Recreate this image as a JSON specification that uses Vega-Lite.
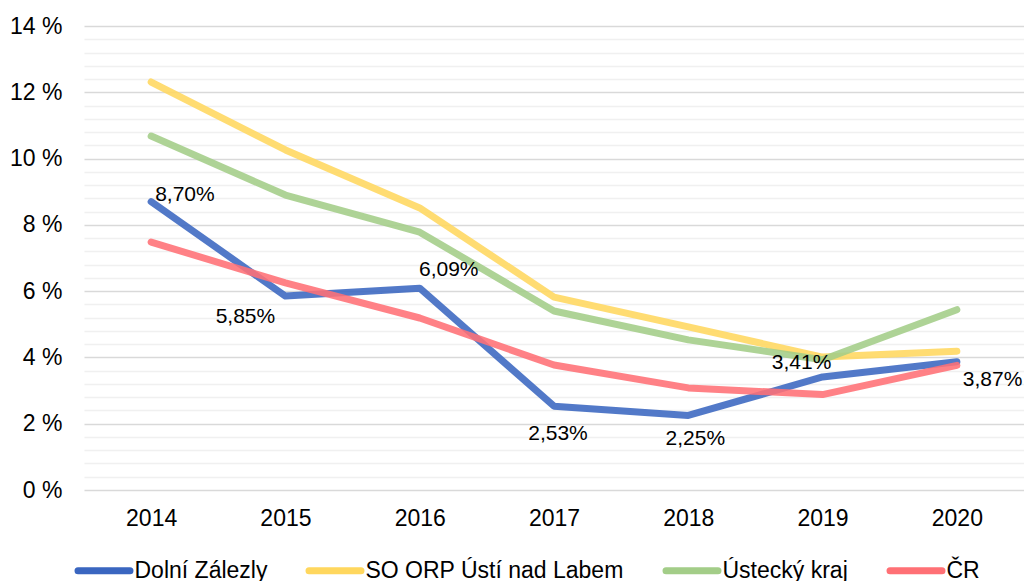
{
  "$schema": "https://vega.github.io/schema/vega-lite/v6.json",
  "width": 940,
  "height": 464,
  "autosize": {"type": "none"},
  "padding": {"left": 84, "top": 26, "right": 0, "bottom": 91},
  "background": "white",
  "config": {
    "view": {"stroke": null},
    "font": "Liberation Sans",
    "text": {"font": "Liberation Sans", "fontSize": 21, "fill": "#000"}
  },
  "data": {
    "values": [
      {"year": "2014", "series": "Dolní Zálezly", "v": 8.70},
      {"year": "2015", "series": "Dolní Zálezly", "v": 5.85},
      {"year": "2016", "series": "Dolní Zálezly", "v": 6.09},
      {"year": "2017", "series": "Dolní Zálezly", "v": 2.53},
      {"year": "2018", "series": "Dolní Zálezly", "v": 2.25},
      {"year": "2019", "series": "Dolní Zálezly", "v": 3.41},
      {"year": "2020", "series": "Dolní Zálezly", "v": 3.87},
      {"year": "2014", "series": "SO ORP Ústí nad Labem", "v": 12.31},
      {"year": "2015", "series": "SO ORP Ústí nad Labem", "v": 10.26},
      {"year": "2016", "series": "SO ORP Ústí nad Labem", "v": 8.51},
      {"year": "2017", "series": "SO ORP Ústí nad Labem", "v": 5.82},
      {"year": "2018", "series": "SO ORP Ústí nad Labem", "v": 4.92},
      {"year": "2019", "series": "SO ORP Ústí nad Labem", "v": 4.01},
      {"year": "2020", "series": "SO ORP Ústí nad Labem", "v": 4.19},
      {"year": "2014", "series": "Ústecký kraj", "v": 10.68},
      {"year": "2015", "series": "Ústecký kraj", "v": 8.90},
      {"year": "2016", "series": "Ústecký kraj", "v": 7.78},
      {"year": "2017", "series": "Ústecký kraj", "v": 5.40},
      {"year": "2018", "series": "Ústecký kraj", "v": 4.53},
      {"year": "2019", "series": "Ústecký kraj", "v": 3.93},
      {"year": "2020", "series": "Ústecký kraj", "v": 5.44},
      {"year": "2014", "series": "ČR", "v": 7.48},
      {"year": "2015", "series": "ČR", "v": 6.25},
      {"year": "2016", "series": "ČR", "v": 5.19},
      {"year": "2017", "series": "ČR", "v": 3.77},
      {"year": "2018", "series": "ČR", "v": 3.08},
      {"year": "2019", "series": "ČR", "v": 2.88},
      {"year": "2020", "series": "ČR", "v": 3.76}
    ]
  },
  "transform": [
    {"calculate": "replace(format(datum.v, '.2f'), '.', ',') + '%'", "as": "label"}
  ],
  "encoding": {
    "x": {
      "field": "year", "type": "ordinal",
      "scale": {"type": "point", "padding": 0.5},
      "axis": {
        "title": null, "labelAngle": 0, "domain": false, "ticks": false,
        "labelFontSize": 23, "labelColor": "#000", "labelFont": "Liberation Sans",
        "labelPadding": 17, "grid": false
      }
    },
    "y": {
      "field": "v", "type": "quantitative",
      "scale": {"domain": [0, 14], "nice": false, "zero": true},
      "axis": {
        "title": null, "domain": false, "ticks": false,
        "values": [0, 0.4, 0.8, 1.2, 1.6, 2, 2.4, 2.8, 3.2, 3.6, 4, 4.4, 4.8, 5.2, 5.6, 6, 6.4, 6.8, 7.2, 7.6, 8, 8.4, 8.8, 9.2, 9.6, 10, 10.4, 10.8, 11.2, 11.6, 12, 12.4, 12.8, 13.2, 13.6, 14],
        "labelExpr": "datum.value % 2 === 0 ? datum.value + ' %' : ''",
        "labelFontSize": 23, "labelColor": "#000", "labelFont": "Liberation Sans",
        "labelPadding": 22,
        "grid": true,
        "gridColor": {"condition": {"test": "datum.value % 2 === 0", "value": "#d9d9d9"}, "value": "#f0f0f0"},
        "gridWidth": 1.5
      }
    }
  },
  "layer": [
    {
      "mark": {"type": "line", "strokeWidth": 7, "strokeCap": "round", "strokeJoin": "round", "opacity": 0.88},
      "encoding": {
        "color": {
          "field": "series", "type": "nominal",
          "scale": {
            "domain": ["Dolní Zálezly", "SO ORP Ústí nad Labem", "Ústecký kraj", "ČR"],
            "range": ["#3a66c0", "#ffd75e", "#a3cd88", "#ff7075"]
          },
          "legend": {
            "title": null, "orient": "none", "direction": "horizontal",
            "legendX": -9.5, "legendY": 515,
            "symbolType": "stroke", "symbolSize": 2700, "symbolStrokeWidth": 7,
            "symbolOpacity": 1,
            "labelFontSize": 23, "labelColor": "#000", "labelFont": "Liberation Sans",
            "labelLimit": 400, "labelOffset": 1, "columnPadding": 27, "padding": 0,
            "encode": {"symbols": {"update": {"strokeCap": {"value": "round"}}}}
          }
        },
        "order": {"field": "year"}
      }
    },
    {
      "transform": [{"filter": "datum.series === 'Dolní Zálezly' && datum.year === '2014'"}],
      "mark": {"type": "text", "align": "left", "baseline": "middle", "dx": 4, "dy": -7},
      "encoding": {"text": {"field": "label"}}
    },
    {
      "transform": [{"filter": "datum.series === 'Dolní Zálezly' && datum.year === '2015'"}],
      "mark": {"type": "text", "align": "center", "baseline": "middle", "dx": -40, "dy": 21},
      "encoding": {"text": {"field": "label"}}
    },
    {
      "transform": [{"filter": "datum.series === 'Dolní Zálezly' && datum.year === '2016'"}],
      "mark": {"type": "text", "align": "center", "baseline": "middle", "dx": 29, "dy": -18},
      "encoding": {"text": {"field": "label"}}
    },
    {
      "transform": [{"filter": "datum.series === 'Dolní Zálezly' && datum.year === '2017'"}],
      "mark": {"type": "text", "align": "center", "baseline": "middle", "dx": 4, "dy": 28},
      "encoding": {"text": {"field": "label"}}
    },
    {
      "transform": [{"filter": "datum.series === 'Dolní Zálezly' && datum.year === '2018'"}],
      "mark": {"type": "text", "align": "center", "baseline": "middle", "dx": 7, "dy": 24},
      "encoding": {"text": {"field": "label"}}
    },
    {
      "transform": [{"filter": "datum.series === 'Dolní Zálezly' && datum.year === '2019'"}],
      "mark": {"type": "text", "align": "center", "baseline": "middle", "dx": -21, "dy": -14},
      "encoding": {"text": {"field": "label"}}
    },
    {
      "transform": [{"filter": "datum.series === 'Dolní Zálezly' && datum.year === '2020'"}],
      "mark": {"type": "text", "align": "left", "baseline": "middle", "dx": 6, "dy": 18},
      "encoding": {"text": {"field": "label"}}
    }
  ]
}
